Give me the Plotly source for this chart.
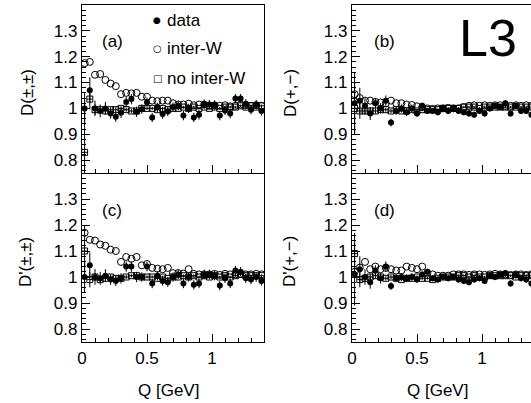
import plotly.graph_objects as go

# ---------------- data ----------------
q = [0.02, 0.06, 0.10, 0.14, 0.18, 0.22, 0.26, 0.30, 0.34, 0.38, 0.42, 0.46, 0.50, 0.54,
     0.58, 0.62, 0.66, 0.70, 0.74, 0.78, 0.82, 0.86, 0.90, 0.94, 0.98, 1.02, 1.06, 1.10,
     1.14, 1.18, 1.22, 1.26, 1.30, 1.34, 1.38]

# panel (a)  D(±,±)
a_data = [1.00, 1.07, 1.00, 0.99, 1.00, 0.98, 0.968, 0.983, 1.025, 1.036, 0.987, 0.997, 1.024, 0.965,
          1.004, 0.978, 0.988, 1.005, 1.01, 0.972, 1.00, 0.965, 0.975, 1.017, 1.015, 1.013, 0.972, 0.992,
          0.98, 1.038, 1.038, 1.018, 0.995, 1.015, 0.99]
a_data_err = [0.06, 0.05, 0.03, 0.025, 0.025, 0.02, 0.02, 0.02, 0.02, 0.02, 0.02, 0.018, 0.018, 0.018,
              0.018, 0.018, 0.018, 0.018, 0.018, 0.018, 0.018, 0.018, 0.018, 0.018, 0.018, 0.018, 0.018, 0.018,
              0.018, 0.018, 0.018, 0.018, 0.018, 0.018, 0.018]
a_inter = [1.175, 1.18, 1.13, 1.133, 1.11, 1.096, 1.086, 1.055, 1.06, 1.058, 1.06, 1.045, 1.045, 1.03,
           1.028, 1.03, 1.03, 1.02, 1.015, 1.015, 1.018, 1.012, 1.015, 1.015, 1.01, 1.012, 1.01, 1.012,
           1.008, 1.01, 1.015, 1.012, 1.01, 1.012, 1.01]
a_nointer = [0.83, 1.036, 0.995, 0.995, 0.99, 0.995, 0.995, 1.0, 0.995, 0.99, 0.99, 1.0, 1.0, 1.0,
             0.995, 1.0, 0.995, 1.0, 1.0, 1.005, 1.0, 1.005, 1.0, 1.005, 1.0, 1.005, 1.0, 1.005,
             1.005, 1.005, 1.01, 1.005, 1.01, 1.005, 1.01]
a_nointer_err = [0.2, 0.04, 0.02, 0.015, 0.012, 0.01, 0.01, 0.008, 0.008, 0.008, 0.008, 0.006, 0.006, 0.006,
                 0.006, 0.006, 0.006, 0.005, 0.005, 0.005, 0.005, 0.005, 0.005, 0.005, 0.005, 0.005, 0.005, 0.005,
                 0.005, 0.005, 0.005, 0.005, 0.005, 0.005, 0.005]

# panel (b)  D(+,-)
b_data = [1.02, 1.03, 1.01, 0.98, 1.02, 1.0, 1.03, 0.945, 0.99, 1.0, 0.985, 1.0, 0.98, 1.01,
          0.99, 0.99, 0.985, 1.0, 0.99, 1.0, 0.99, 0.985, 0.98, 0.975, 0.99, 0.98, 1.0, 1.01,
          1.005, 1.02, 0.98, 1.01, 0.99, 0.99, 0.975]
b_data_err = [0.12, 0.05, 0.03, 0.025, 0.02, 0.02, 0.02, 0.015, 0.015, 0.015, 0.015, 0.015, 0.012, 0.012,
              0.012, 0.012, 0.012, 0.012, 0.012, 0.012, 0.012, 0.012, 0.012, 0.012, 0.012, 0.012, 0.012, 0.012,
              0.012, 0.012, 0.012, 0.012, 0.012, 0.012, 0.012]
b_inter = [1.055, 1.04, 1.03, 1.03, 1.025, 1.023, 1.02, 1.03, 1.02, 1.02, 1.015, 1.013, 1.008, 1.005,
           1.0, 0.998, 1.0, 1.0, 1.002, 1.0, 1.0, 1.005, 1.01, 1.012, 1.01, 1.012, 1.01, 1.012,
           1.012, 1.01, 1.01, 1.012, 1.01, 1.012, 1.01]
b_nointer = [1.0, 0.99, 0.99, 0.99, 0.99, 0.995, 0.995, 0.99, 0.995, 0.99, 0.99, 0.995, 0.99, 0.995,
             0.995, 0.995, 0.995, 1.0, 1.0, 1.0, 1.0, 1.005, 1.005, 1.005, 1.0, 1.005, 1.005, 1.005,
             1.005, 1.005, 1.005, 1.005, 1.005, 1.005, 1.005]
b_nointer_err = [0.1, 0.03, 0.015, 0.012, 0.01, 0.01, 0.008, 0.008, 0.008, 0.006, 0.006, 0.006, 0.006, 0.006,
                 0.005, 0.005, 0.005, 0.005, 0.005, 0.005, 0.005, 0.005, 0.005, 0.005, 0.005, 0.005, 0.005, 0.005,
                 0.005, 0.005, 0.005, 0.005, 0.005, 0.005, 0.005]

# panel (c)  D'(±,±)
c_data = [1.0, 1.045, 1.0, 0.995, 1.005, 0.99, 0.985, 0.995, 1.04, 1.04, 1.0, 1.0, 1.04, 0.975,
          1.005, 0.985, 0.98, 1.0, 1.01, 0.975, 1.0, 0.97, 0.975, 1.01, 1.01, 1.005, 0.967, 0.995,
          0.975, 1.025, 1.02, 0.995, 0.99, 1.0, 0.985]
c_data_err = [0.06, 0.05, 0.03, 0.025, 0.025, 0.02, 0.02, 0.02, 0.02, 0.02, 0.02, 0.018, 0.018, 0.018,
              0.018, 0.018, 0.018, 0.018, 0.018, 0.018, 0.018, 0.018, 0.018, 0.018, 0.018, 0.018, 0.018, 0.018,
              0.018, 0.018, 0.018, 0.018, 0.018, 0.018, 0.018]
c_inter = [1.17, 1.143, 1.14, 1.125, 1.12, 1.105, 1.1, 1.058, 1.077, 1.07, 1.077, 1.045, 1.05, 1.035,
           1.032, 1.03, 1.035, 1.015, 1.015, 1.013, 1.03, 1.012, 1.01, 1.01, 1.01, 1.012, 1.008, 1.012,
           1.01, 1.01, 1.012, 1.01, 1.01, 1.012, 1.01]
c_nointer = [1.1, 0.99, 1.0, 0.99, 0.995, 1.0, 0.995, 0.995, 1.0, 1.005, 1.005, 1.0, 1.0, 1.0,
             0.995, 1.0, 0.995, 1.0, 1.0, 1.005, 1.0, 1.005, 1.0, 1.005, 1.0, 1.005, 1.0, 1.005,
             1.0, 1.005, 1.01, 1.005, 1.005, 1.005, 1.005]
c_nointer_err = [0.1, 0.03, 0.015, 0.012, 0.01, 0.01, 0.008, 0.008, 0.008, 0.006, 0.006, 0.006, 0.006, 0.006,
                 0.005, 0.005, 0.005, 0.005, 0.005, 0.005, 0.005, 0.005, 0.005, 0.005, 0.005, 0.005, 0.005, 0.005,
                 0.005, 0.005, 0.005, 0.005, 0.005, 0.005, 0.005]

# panel (d)  D'(+,-)
d_data = [1.01, 1.03, 1.0, 0.98, 1.025, 0.995, 1.04, 0.965, 0.995, 1.0, 0.995, 1.0, 0.99, 1.01,
          1.02, 0.995, 0.99, 1.0, 0.995, 1.0, 0.99, 0.985, 0.98, 0.99, 0.995, 0.985, 1.005, 1.0,
          1.01, 1.015, 0.975, 1.01, 0.995, 0.99, 0.975]
d_data_err = [0.12, 0.05, 0.03, 0.025, 0.02, 0.02, 0.02, 0.015, 0.015, 0.015, 0.015, 0.015, 0.012, 0.012,
              0.012, 0.012, 0.012, 0.012, 0.012, 0.012, 0.012, 0.012, 0.012, 0.012, 0.012, 0.012, 0.012, 0.012,
              0.012, 0.012, 0.012, 0.012, 0.012, 0.012, 0.012]
d_inter = [1.02, 1.036, 1.058, 1.03, 1.04, 1.03, 1.035, 1.03, 1.025, 1.025, 1.04, 1.035, 1.03, 1.04,
           1.015, 1.01, 1.005, 1.005, 1.005, 1.01, 1.01, 1.01, 1.008, 1.01, 1.01, 1.008, 1.01, 1.012,
           1.01, 1.01, 1.008, 1.01, 1.01, 1.008, 1.01]
d_nointer = [1.09, 0.99, 0.995, 1.0, 1.005, 1.0, 0.995, 1.0, 0.995, 0.99, 0.995, 0.995, 1.0, 0.995,
             0.995, 0.99, 0.995, 1.0, 1.0, 1.0, 1.005, 1.005, 1.0, 1.005, 1.0, 1.0, 1.005, 1.005,
             1.005, 1.005, 1.005, 1.0, 1.005, 1.005, 1.005]
d_nointer_err = [0.08, 0.03, 0.015, 0.012, 0.01, 0.01, 0.008, 0.008, 0.008, 0.006, 0.006, 0.006, 0.006, 0.006,
                 0.005, 0.005, 0.005, 0.005, 0.005, 0.005, 0.005, 0.005, 0.005, 0.005, 0.005, 0.005, 0.005, 0.005,
                 0.005, 0.005, 0.005, 0.005, 0.005, 0.005, 0.005]

half_bin = [0.02] * len(q)

panel_labels = ["(a)", "(b)", "(c)", "(d)"]
y_titles = ["D(\u00b1,\u00b1)", "D(+,\u2212)", "D'(\u00b1,\u00b1)", "D'(+,\u2212)"]
x_title = "Q [GeV]"
legend_names = ["data", "inter-W", "no inter-W"]
y_tickvals = [0.8, 0.9, 1.0, 1.1, 1.2, 1.3]
y_ticktext = ["0.8", "0.9", "1", "1.1", "1.2", "1.3"]
x_tickvals = [0, 0.5, 1]
x_ticktext = ["0", "0.5", "1"]

# ---------------- figure ----------------
W, H = 531, 403
FONT = "Liberation Sans, Arial, Helvetica, sans-serif"
FS = 17

fig = go.Figure()

panels = [
    (a_data, a_data_err, a_inter, a_nointer, a_nointer_err),
    (b_data, b_data_err, b_inter, b_nointer, b_nointer_err),
    (c_data, c_data_err, c_inter, c_nointer, c_nointer_err),
    (d_data, d_data_err, d_inter, d_nointer, d_nointer_err),
]

for i, (dd, de, iw, nw, ne) in enumerate(panels):
    ax = "" if i == 0 else str(i + 1)
    xr, yr = "x" + ax, "y" + ax
    fig.add_trace(go.Scatter(
        x=q, y=nw, mode="markers", xaxis=xr, yaxis=yr, name=legend_names[2], showlegend=False,
        marker=dict(symbol="square-open", size=6, color="black", line=dict(width=1, color="black")),
        error_y=dict(type="data", array=ne, thickness=1, width=0, color="black"),
        error_x=dict(type="data", array=half_bin, thickness=1, width=0, color="black"),
        cliponaxis=True))
    fig.add_trace(go.Scatter(
        x=q, y=iw, mode="markers", xaxis=xr, yaxis=yr, name=legend_names[1], showlegend=False,
        marker=dict(symbol="circle-open", size=7, color="black", line=dict(width=1, color="black")),
        cliponaxis=True))
    fig.add_trace(go.Scatter(
        x=q, y=dd, mode="markers", xaxis=xr, yaxis=yr, name=legend_names[0], showlegend=False,
        marker=dict(symbol="circle", size=6, color="black"),
        error_y=dict(type="data", array=de, thickness=1, width=0, color="black"),
        cliponaxis=True))

# domains in pixels
xl = [(82, 264), (352, 531)]
yl = [(5, 173), (173, 342)]
PX_PER_GEV = 130.0


def xd(p):
    return [p[0] / W, p[1] / W]


def yd(p):
    return [1 - p[1] / H, 1 - p[0] / H]


layout = dict(
    template="none",
    width=W, height=H, margin=dict(l=0, r=0, t=0, b=0, pad=0, autoexpand=False),
    paper_bgcolor="white", plot_bgcolor="white", showlegend=False,
    font=dict(family=FONT, size=FS, color="black"),
)

for i in range(4):
    col, row = i % 2, i // 2
    ax = "" if i == 0 else str(i + 1)
    xpx, ypx = xl[col], yl[row]
    xmax = (xpx[1] - xpx[0]) / PX_PER_GEV
    layout["xaxis" + ax] = dict(
        domain=xd(xpx), range=[0, xmax], anchor="y" + ax, automargin=False,
        showline=True, linecolor="black", linewidth=1.2, mirror=(row == 0),
        ticks="inside", ticklen=8, tickwidth=1, tickcolor="black",
        tickvals=x_tickvals, ticktext=x_ticktext, showticklabels=(row == 1),
        minor=dict(dtick=0.1, tick0=0, ticks="inside", ticklen=4, tickcolor="black", showgrid=False),
        showgrid=False, zeroline=False, tickfont=dict(family=FONT, size=FS, color="black"),
    )
    layout["yaxis" + ax] = dict(
        domain=yd(ypx), range=[0.75, 1.4], anchor="x" + ax, automargin=False,
        showline=True, linecolor="black", linewidth=1.2, mirror=(col == 0),
        ticks="inside", ticklen=8, tickwidth=1, tickcolor="black",
        tickvals=y_tickvals, ticktext=y_ticktext,
        minor=dict(dtick=0.02, tick0=0, ticks="inside", ticklen=4, tickcolor="black", showgrid=False),
        showgrid=False, zeroline=False, tickfont=dict(family=FONT, size=FS, color="black"),
    )

fig.update_layout(**layout)

ann = []
# panel labels
label_pos = [(100, 42), (372, 42), (100, 211), (372, 211)]
for (px, py), t in zip(label_pos, panel_labels):
    ann.append(dict(x=px / W, y=1 - py / H, xref="paper", yref="paper", text=t, showarrow=False,
                    xanchor="left", yanchor="middle", font=dict(family=FONT, size=FS, color="black")))
# y titles
ytitle_pos = [(27, 93), (290, 93), (25, 262), (289, 262)]
for (px, py), t in zip(ytitle_pos, y_titles):
    ann.append(dict(x=px / W, y=1 - py / H, xref="paper", yref="paper", text=t, showarrow=False,
                    textangle=-90, xanchor="center", yanchor="middle",
                    font=dict(family=FONT, size=FS, color="black")))
# x titles
for px in (168, 437):
    ann.append(dict(x=px / W, y=1 - 390 / H, xref="paper", yref="paper", text=x_title, showarrow=False,
                    xanchor="center", yanchor="middle", font=dict(family=FONT, size=FS, color="black")))
# legend (symbols + names)
leg_sym = ["\u25cf", "\u25cb", "\u25a1"]
leg_sym_size = [9, 10, 10]
leg_y = [20, 48, 79]
for s, ss, n, py in zip(leg_sym, leg_sym_size, legend_names, leg_y):
    ann.append(dict(x=157 / W, y=1 - py / H, xref="paper", yref="paper", text=s, showarrow=False,
                    xanchor="center", yanchor="middle", font=dict(family="DejaVu Sans", size=ss, color="black")))
    ann.append(dict(x=165 / W, y=1 - py / H, xref="paper", yref="paper", text=n, showarrow=False,
                    xanchor="left", yanchor="middle", font=dict(family=FONT, size=FS, color="black")))
# L3 logo
ann.append(dict(x=488 / W, y=1 - 38 / H, xref="paper", yref="paper", text="L3", showarrow=False,
                xanchor="center", yanchor="middle", font=dict(family=FONT, size=52, color="black")))

fig.update_layout(annotations=ann)
fig.write_html("out.html", config={"displayModeBar": False, "staticPlot": True},
               post_script="document.body.style.margin='0';document.body.style.padding='0';"
                           "document.body.style.overflow='hidden';")
